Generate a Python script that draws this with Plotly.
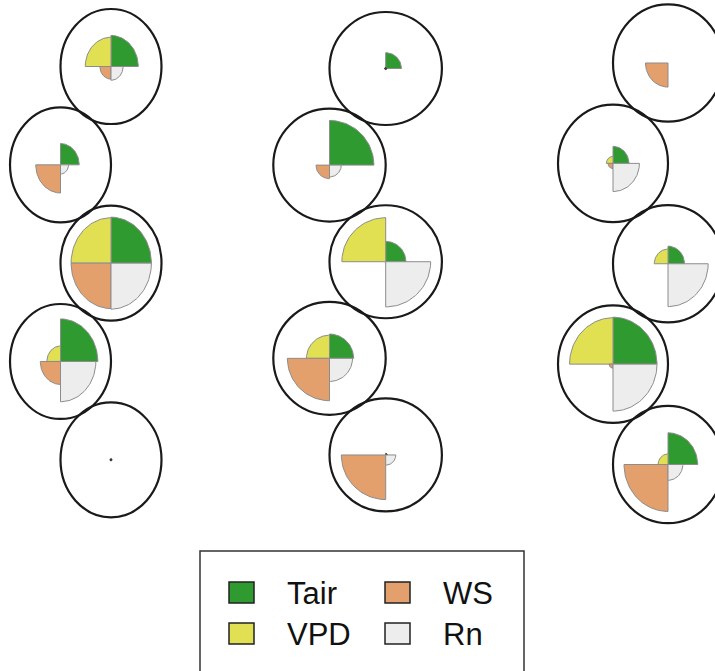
import numpy as np
import plotly.graph_objects as go

# ---- data: relative magnitude (fraction of circle radius) per panel (3) x site (5)
variables = ["Tair", "VPD", "WS", "Rn"]
tair = [[0.54, 0.37, 0.80, 0.74, 0.02], [0.28, 0.79, 0.36, 0.43, 0.03], [0.00, 0.29, 0.30, 0.80, 0.54]]
vpd = [[0.51, 0.00, 0.79, 0.27, 0.02], [0.02, 0.00, 0.78, 0.41, 0.00], [0.00, 0.12, 0.25, 0.79, 0.18]]
ws = [[0.22, 0.49, 0.79, 0.40, 0.02], [0.02, 0.24, 0.00, 0.75, 0.79], [0.41, 0.09, 0.00, 0.07, 0.80]]
rn = [[0.24, 0.16, 0.80, 0.70, 0.02], [0.02, 0.21, 0.80, 0.41, 0.18], [0.00, 0.48, 0.73, 0.80, 0.27]]

# ---- styles
colors = {"Tair": "#2f9a2f", "VPD": "#e0e052", "WS": "#e3a06c", "Rn": "#ededed"}
start_angle = {"Tair": 0, "VPD": 90, "WS": 180, "Rn": 270}
W, H = 715, 671
ROW_STEP = 1.71
# panel pixel geometry: (px of x=0, px per x unit, px of y=0, px per y unit)
panel_geo = [(60.5, 50.5, 66.5, 57.5), (329.5, 56.2, 68.5, 56.5), (613.0, 55.0, 63.0, 58.7)]

fig = go.Figure()
layout_axes = {}
series = {"Tair": tair, "VPD": vpd, "WS": ws, "Rn": rn}

for p, (x0px, sx, y0px, sy) in enumerate(panel_geo):
    ax = "" if p == 0 else str(p + 1)
    xref, yref = "x" + ax, "y" + ax
    left_px = max(0.0, x0px - 1.06 * sx)
    right_px = min(float(W), x0px + 2.06 * sx)
    top_px = max(0.0, y0px - 1.06 * sy)
    bot_px = min(float(H), y0px + (4 * ROW_STEP + 1.06) * sy)
    xr = [(left_px - x0px) / sx, (right_px - x0px) / sx]
    yr = [(bot_px - y0px) / sy, (top_px - y0px) / sy]  # reversed (down positive)
    common = dict(visible=False, showgrid=False, zeroline=False, fixedrange=True)
    layout_axes["xaxis" + ax] = dict(domain=[left_px / W, right_px / W], range=xr, anchor=yref, **common)
    layout_axes["yaxis" + ax] = dict(domain=[1 - bot_px / H, 1 - top_px / H], range=yr, anchor=xref, **common)

    for s in range(5):
        cx = 1.0 if s % 2 == 0 else 0.0
        cy = s * ROW_STEP
        for v in variables:
            r = series[v][p][s]
            if r <= 0:
                continue
            t = np.radians(np.linspace(start_angle[v], start_angle[v] + 90, 40))
            xs = np.concatenate([[cx], cx + r * np.cos(t), [cx]])
            ys = np.concatenate([[cy], cy - r * np.sin(t), [cy]])
            fig.add_trace(go.Scatter(
                x=xs, y=ys, xaxis=xref, yaxis=yref, mode="lines", fill="toself",
                fillcolor=colors[v], line=dict(color="#8c8c8c" if r > 0.05 else "#333333", width=1),
                hoverinfo="skip", showlegend=False))
        fig.add_shape(type="circle", xref=xref, yref=yref,
                      x0=cx - 1, x1=cx + 1, y0=cy - 1, y1=cy + 1,
                      line=dict(color="#1a1a1a", width=2.2))

# ---- manual legend
fig.add_shape(type="rect", xref="paper", yref="paper",
              x0=200 / W, x1=524 / W, y0=1 - 551 / H, y1=-0.1,
              line=dict(color="#333333", width=1.5), fillcolor="white")
legend_pos = {"Tair": (229, 582), "VPD": (229, 623), "WS": (385, 582), "Rn": (385, 623)}
for v in variables:
    lx, ly = legend_pos[v]
    fig.add_shape(type="rect", xref="paper", yref="paper",
                  x0=lx / W, x1=(lx + 25) / W, y0=1 - ly / H, y1=1 - (ly + 21) / H,
                  line=dict(color="#222222", width=1.5), fillcolor=colors[v])
    fig.add_annotation(x=(lx + 56) / W, y=1 - (ly + 11) / H, xref="paper", yref="paper",
                       text=v, showarrow=False, xanchor="left", yanchor="middle",
                       font=dict(family="Liberation Sans, Arial", size=31, color="#111111"))

fig.update_layout(width=W, height=H, margin=dict(l=0, r=0, t=0, b=0),
                  paper_bgcolor="white", plot_bgcolor="rgba(0,0,0,0)",
                  showlegend=False, **layout_axes)
fig.write_html("out.html", config={"displayModeBar": False, "staticPlot": True},
               post_script="document.body.style.margin='0';document.body.style.overflow='hidden';")
